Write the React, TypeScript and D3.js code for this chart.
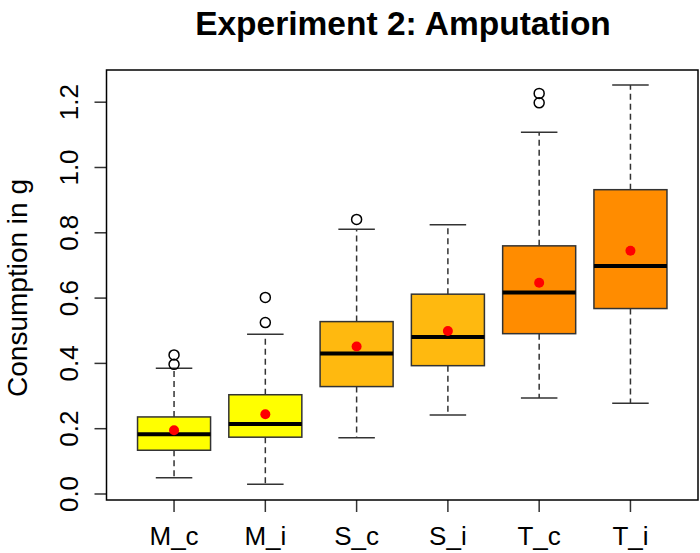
import React from "react";
import * as d3 from "d3";

const categories = ["M_c", "M_i", "S_c", "S_i", "T_c", "T_i"];
const lowerWhisker = [0.05, 0.03, 0.172, 0.242, 0.294, 0.278];
const q1 = [0.134, 0.174, 0.329, 0.393, 0.491, 0.568];
const medians = [0.183, 0.214, 0.43, 0.481, 0.617, 0.698];
const q3 = [0.236, 0.304, 0.528, 0.612, 0.76, 0.932];
const upperWhisker = [0.385, 0.489, 0.811, 0.825, 1.108, 1.253];
const means = [0.195, 0.244, 0.452, 0.499, 0.647, 0.745];
const outliers = [[0.397, 0.426], [0.525, 0.602], [0.841], [], [1.198, 1.227], []];
const fillColors = ["#FFFF00", "#FFFF00", "#FFB90F", "#FFB90F", "#FF8C00", "#FF8C00"];
const yTicks = [0, 0.2, 0.4, 0.6, 0.8, 1.0, 1.2];
const yTickLabels = ["0.0", "0.2", "0.4", "0.6", "0.8", "1.0", "1.2"];

const W = 700;
const H = 553;
const left = 106.5;
const right = 698;
const top = 70;
const bottom = 500;
const font = "'Liberation Sans', Arial, Helvetica, sans-serif";

export default function App() {
  const x = d3.scaleLinear().domain([0.26, 6.74]).range([left, right]);
  const y = d3.scaleLinear().domain([-0.0184, 1.2986]).range([bottom, top]);
  const boxW = x(1.4) - x(1);
  const stapleW = x(1.2) - x(1);
  const lineCol = "#333333";

  return (
    <svg width={W} height={H} style={{ position: "absolute", left: 0, top: 0, background: "#fff" }}>
      <text x={403} y={35} textAnchor="middle" fontFamily={font} fontWeight="bold" fontSize={33.5}>
        Experiment 2: Amputation
      </text>
      {categories.map((c, i) => {
        const cx = x(i + 1);
        return (
          <g key={c}>
            <line x1={cx} x2={cx} y1={y(q3[i])} y2={y(upperWhisker[i])} stroke={lineCol} strokeWidth={1.5} strokeDasharray="6,4" />
            <line x1={cx} x2={cx} y1={y(q1[i])} y2={y(lowerWhisker[i])} stroke={lineCol} strokeWidth={1.5} strokeDasharray="6,4" />
            <line x1={cx - stapleW} x2={cx + stapleW} y1={y(upperWhisker[i])} y2={y(upperWhisker[i])} stroke={lineCol} strokeWidth={1.5} />
            <line x1={cx - stapleW} x2={cx + stapleW} y1={y(lowerWhisker[i])} y2={y(lowerWhisker[i])} stroke={lineCol} strokeWidth={1.5} />
            <rect x={cx - boxW} y={y(q3[i])} width={boxW * 2} height={y(q1[i]) - y(q3[i])} fill={fillColors[i]} stroke={lineCol} strokeWidth={1.5} />
            <line x1={cx - boxW} x2={cx + boxW} y1={y(medians[i])} y2={y(medians[i])} stroke="#000" strokeWidth={4} />
            {outliers[i].map((o, j) => (
              <circle key={j} cx={cx} cy={y(o)} r={5} fill="none" stroke="#000" strokeWidth={1.5} />
            ))}
            <circle cx={cx} cy={y(means[i])} r={5} fill="#FF0000" />
            <line x1={cx} x2={cx} y1={bottom} y2={bottom + 12} stroke={lineCol} strokeWidth={1.5} />
            <text x={cx} y={545} textAnchor="middle" fontFamily={font} fontSize={26}>
              {c}
            </text>
          </g>
        );
      })}
      {yTicks.map((t, i) => (
        <g key={t}>
          <line x1={left - 12} x2={left} y1={y(t)} y2={y(t)} stroke={lineCol} strokeWidth={1.5} />
          <text transform={`translate(78,${y(t)}) rotate(-90)`} textAnchor="middle" fontFamily={font} fontSize={26}>
            {yTickLabels[i]}
          </text>
        </g>
      ))}
      <text transform={`translate(27,288) rotate(-90)`} textAnchor="middle" fontFamily={font} fontSize={28}>
        Consumption in g
      </text>
      <rect x={left} y={top} width={right - left} height={bottom - top} fill="none" stroke="#000" strokeWidth={1.5} />
    </svg>
  );
}
